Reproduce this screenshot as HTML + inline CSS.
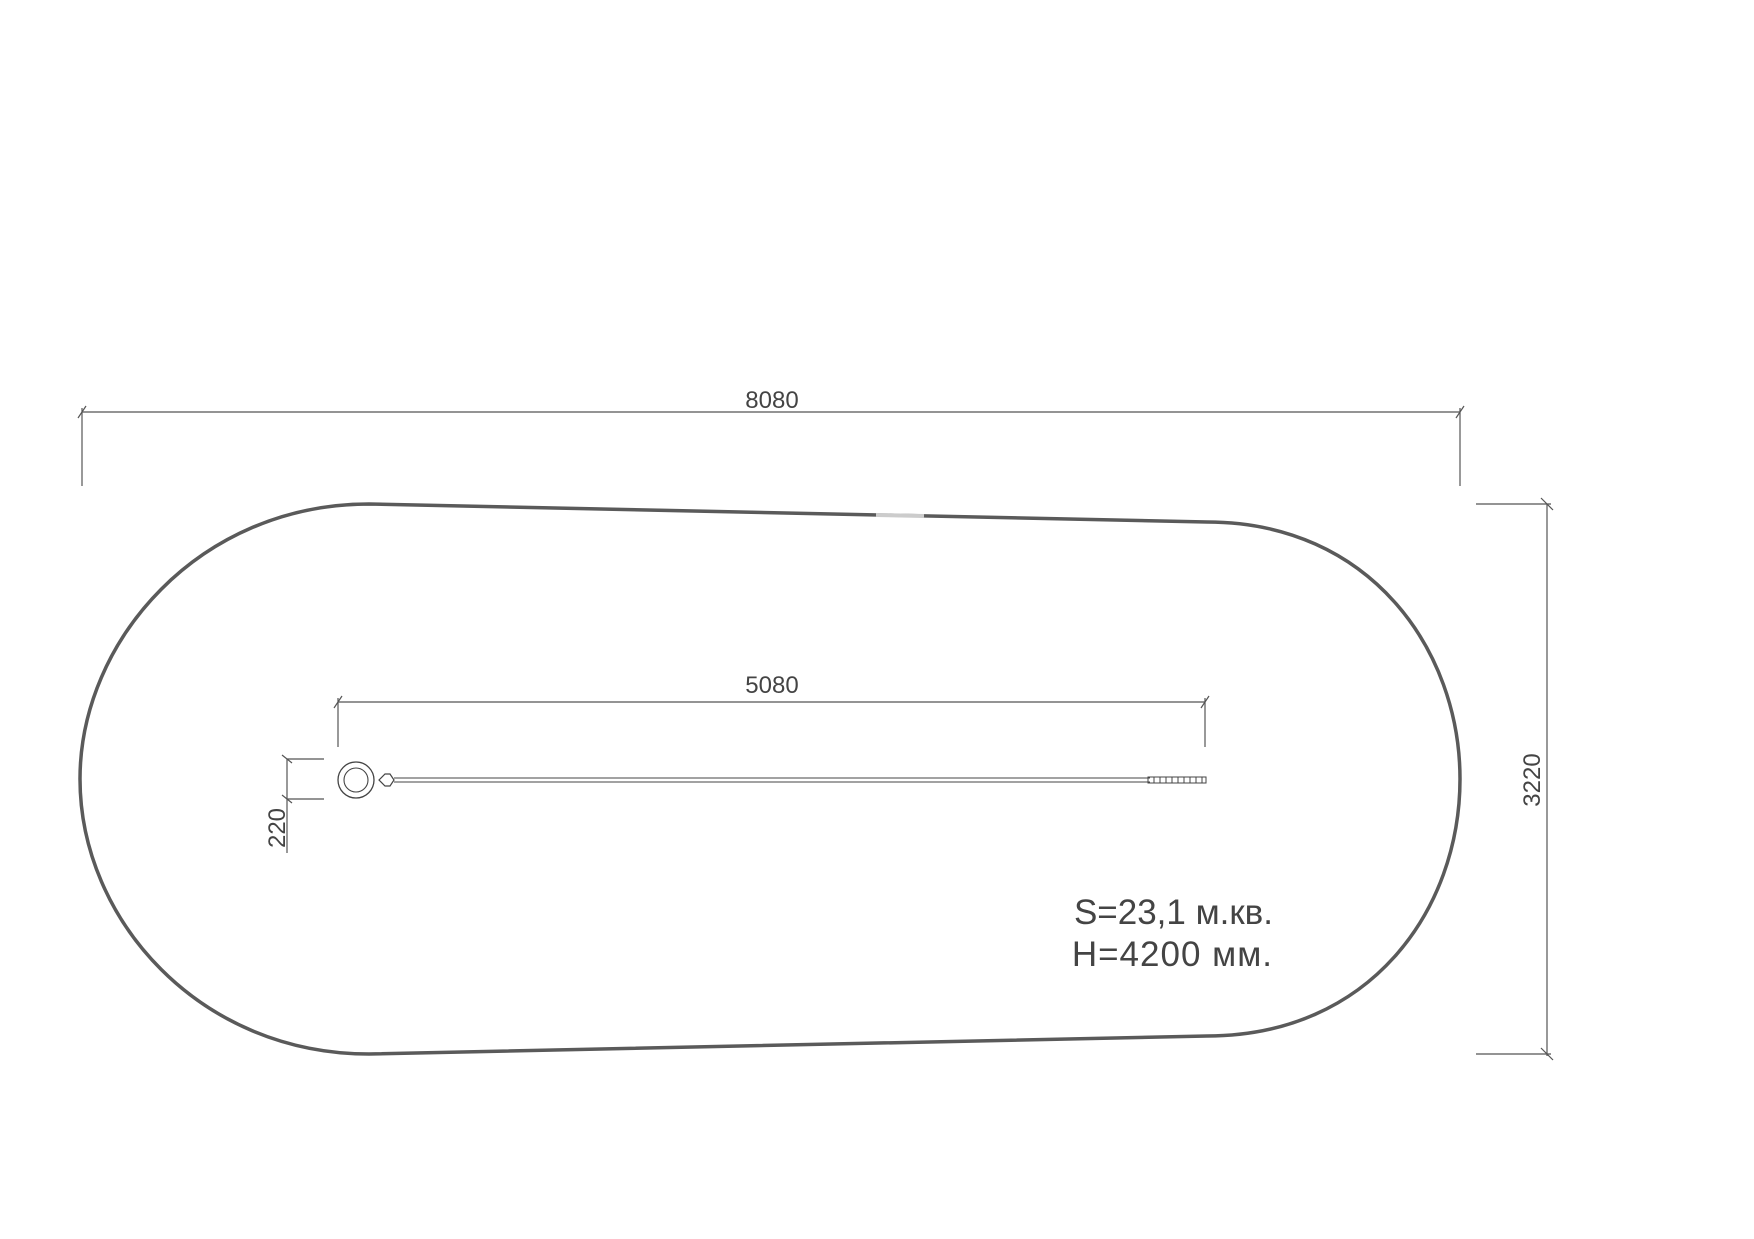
<!DOCTYPE html>
<html><head><meta charset="utf-8"><style>
html,body{margin:0;padding:0;background:#fff;}
svg{display:block}
text{font-family:"Liberation Sans","DejaVu Sans",sans-serif;fill:#444;}
</style></head><body>
<svg width="1754" height="1239" viewBox="0 0 1754 1239" xmlns="http://www.w3.org/2000/svg">
<g stroke="#555" stroke-width="1.2" fill="none">
<!-- 8080 -->
<line x1="82" y1="412" x2="1460" y2="412"/>
<line x1="82" y1="408" x2="82" y2="486"/>
<line x1="1460" y1="408" x2="1460" y2="486"/>
<line x1="78" y1="418" x2="86" y2="406"/>
<line x1="1456" y1="418" x2="1464" y2="406"/>
<!-- 3220 -->
<line x1="1547" y1="504" x2="1547" y2="1056"/>
<line x1="1476" y1="504" x2="1551" y2="504"/>
<line x1="1476" y1="1054" x2="1551" y2="1054"/>
<line x1="1541" y1="498" x2="1553" y2="510"/>
<line x1="1541" y1="1048" x2="1553" y2="1060"/>
<!-- 5080 -->
<line x1="338" y1="702" x2="1205" y2="702"/>
<line x1="338" y1="698" x2="338" y2="747"/>
<line x1="1205" y1="698" x2="1205" y2="747"/>
<line x1="334" y1="708" x2="342" y2="696"/>
<line x1="1201" y1="708" x2="1209" y2="696"/>
<!-- 220 -->
<line x1="287" y1="759" x2="287" y2="853"/>
<line x1="287" y1="759" x2="324" y2="759"/>
<line x1="287" y1="799" x2="324" y2="799"/>
<line x1="282" y1="755" x2="292" y2="763"/>
<line x1="282" y1="795" x2="292" y2="803"/>
</g>
<!-- main shape -->
<path d="M369,504 L1207,522 C1370,522 1460,650 1460,779 C1460,910 1370,1036 1207,1036 L369,1054 C200,1054 80,920 80,779 C80,640 200,504 369,504 Z" fill="none" stroke="#5a5a5a" stroke-width="3.5"/>
<line x1="876" y1="515" x2="924" y2="516" stroke="#ccc" stroke-width="4"/>
<!-- rod -->
<g stroke="#444" fill="none">
<circle cx="356" cy="780" r="18" stroke-width="1.3"/>
<circle cx="356" cy="780" r="12" stroke-width="1.1"/>
<path d="M379,780 l6,-6 l5,0 l4,6 l-4,6 l-5,0 z" stroke-width="1.2"/>
<line x1="394" y1="778" x2="1150" y2="778" stroke-width="1"/>
<line x1="394" y1="782" x2="1150" y2="782" stroke-width="1"/>
<rect x="1148" y="777" width="58" height="6" stroke-width="1"/>
<path d="M1154,777 l0,6 M1160,777 l0,6 M1166,777 l0,6 M1172,777 l0,6 M1178,777 l0,6 M1184,777 l0,6 M1190,777 l0,6 M1196,777 l0,6 M1202,777 l0,6" stroke-width="1"/>
</g>
<text x="772" y="408" font-size="24" text-anchor="middle">8080</text>
<text x="772" y="693" font-size="24" text-anchor="middle">5080</text>
<text transform="translate(1540,780) rotate(-90)" font-size="24" text-anchor="middle">3220</text>
<text transform="translate(285,828) rotate(-90)" font-size="24" text-anchor="middle">220</text>
<text x="1273" y="924" font-size="35" text-anchor="end">S=23,1 м.кв.</text>
<text x="1273" y="966" font-size="35" text-anchor="end" letter-spacing="1">H=4200 мм.</text>
</svg>
</body></html>
